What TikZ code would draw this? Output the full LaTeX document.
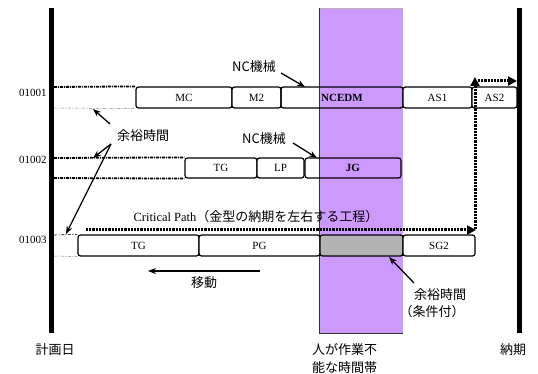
\documentclass[tikz,border=0pt]{standalone}
\usepackage{fontspec}
\setmainfont{Liberation Serif}
\newfontfamily\jpfont{Noto Sans CJK JP}
\usetikzlibrary{arrows.meta}
\definecolor{lilac}{HTML}{CC99FF}
\definecolor{slackgray}{HTML}{B3B3B3}
\begin{document}
\begin{tikzpicture}[x=1pt,y=-1pt,
  taskbox/.style={draw=black, line width=1.2pt, rounded corners=2.5pt, inner sep=0pt,
     font=\fontsize{11}{13}\selectfont},
  whitebox/.style={taskbox, fill=white},
  rowlbl/.style={font=\fontsize{11}{13}\selectfont, inner sep=0pt},
  jlbl/.style={font=\jpfont\fontsize{13}{15}\selectfont, inner sep=0pt},
  ptr/.style={-{Stealth[length=8pt,width=6pt]}, line width=1.3pt},
  crit/.style={line width=3pt, dash pattern=on 2.2pt off 1pt, -{Triangle[length=9pt,width=9pt]}},
  ddthick/.style={line width=1.8pt, dash pattern=on 3pt off 1pt on 1pt off 1pt},
  ddthin/.style={line width=0.5pt, gray, dash pattern=on 3pt off 1.5pt on 1pt off 1.5pt},
  bar/.style={line width=5pt}
]
\useasboundingbox (0,0) rectangle (538,374);
% unavailable period
\fill[lilac] (319,8) rectangle (403,333);
\draw[line width=0.5pt, gray!60] (319,8) -- (403,8);
\draw[line width=0.8pt, black!80] (319,8) -- (319,333) -- (403,333);
% bars
\draw[bar] (51.5,8) -- (51.5,333);

% row labels
\node[rowlbl] (r1) at (33,93) {01001};
\node[rowlbl] (r2) at (33,160) {01002};
\node[rowlbl] (r3) at (33,240) {01003};

% row 1
\node[whitebox, minimum width=96pt, minimum height=21pt] (mc) at (184,97.5) {MC};
\node[whitebox, minimum width=49pt, minimum height=21pt] (m2) at (256.5,97.5) {M2};
\node[taskbox, minimum width=122pt, minimum height=21pt] (edm) at (342,97.5) {\textbf{NCEDM}};
\node[whitebox, minimum width=69pt, minimum height=21pt] (as1) at (437.5,97.5) {AS1};
\node[whitebox, minimum width=45pt, minimum height=21pt] (as2) at (494.5,97.5) {AS2};
\draw[bar] (519,8) -- (519,333);
\coordinate (l1a) at (54,87);
\coordinate (l1b) at (54,108);
\draw[ddthick] (l1a) -- (mc.north west);
\draw[ddthin] (l1b) -- (mc.south west);

% row 2
\node[whitebox, minimum width=72pt, minimum height=20pt] (tg2) at (221,168) {TG};
\node[whitebox, minimum width=47pt, minimum height=20pt] (lp) at (280.5,168) {LP};
\node[taskbox, minimum width=96pt, minimum height=20pt] (jg) at (353,168) {\textbf{JG}};
\coordinate (l2a) at (54,158);
\coordinate (l2b) at (54,178);
\draw[ddthick] (l2a) -- (tg2.north west);
\draw[ddthick] (l2b) -- (tg2.south west);

% row 3
\node[whitebox, minimum width=121pt, minimum height=21pt] (tg3) at (138.5,245.5) {TG};
\node[whitebox, minimum width=121pt, minimum height=21pt] (pg) at (259.5,245.5) {PG};
\node[taskbox, fill=slackgray, minimum width=83pt, minimum height=21pt] (gap) at (361.5,245.5) {};
\node[whitebox, minimum width=72pt, minimum height=21pt] (sg2) at (439,245.5) {SG2};
\coordinate (l3a) at (54,235);
\coordinate (l3b) at (54,256);
\draw[line width=0.6pt, dash pattern=on 3pt off 1.5pt on 1pt off 1.5pt] (l3a) -- (tg3.north west);
\draw[ddthin] (l3b) -- (tg3.south west);

% critical path
\node[font=\fontsize{12.5}{14}\selectfont, inner sep=0pt] (cp) at (256,217)
  {Critical Path{\jpfont\fontsize{13}{15}\selectfont （金型の納期を左右する工程）}};
\coordinate (cpa) at (86,230);
\coordinate (cpb) at (476,230);
\coordinate (cpc) at (475,229);
\coordinate (cpd) at (475,77);
\coordinate (cpe) at (478,81);
\coordinate (cpf) at (517,81);
\draw[crit] (cpa) -- (cpb);
\draw[crit] (cpc) -- (cpd);
\draw[crit] (cpe) -- (cpf);

% NC machine labels
\node[jlbl] (nc1) at (254,67) {NC機械};
\coordinate (nc1s) at (281,73);
\coordinate (nc1t) at (305,87);
\draw[ptr] (nc1s) -- (nc1t);
\node[jlbl] (nc2) at (264,139) {NC機械};
\coordinate (nc2s) at (293,143);
\coordinate (nc2t) at (317,158);
\draw[ptr] (nc2s) -- (nc2t);

% slack labels
\node[jlbl] (sl) at (143,136) {余裕時間};
\coordinate (sl1) at (93,109);
\coordinate (sl2) at (93,158);
\coordinate (sl3) at (66,234);
\coordinate (slo1) at (110,124);
\coordinate (slo2) at (111,144);
\draw[ptr] (slo1) -- (sl1);
\draw[ptr] (slo2) -- (sl2);
\draw[ptr] (slo2) -- (sl3);

% move
\node[jlbl] (mv) at (204,283) {移動};
\coordinate (mva) at (260,271);
\coordinate (mvb) at (148,271);
\draw[ptr] (mva) -- (mvb);

% conditional slack
\node[jlbl] (cs1) at (440,295) {余裕時間};
\node[jlbl] (cs2) at (432,312) {（条件付）};
\coordinate (csa) at (414,283);
\coordinate (csb) at (389,257);
\draw[ptr] (csa) -- (csb);

% bottom labels
\node[jlbl] (plan) at (55,350) {計画日};
\node[jlbl, anchor=west] (hum1) at (312,350) {人が作業不};
\node[jlbl, anchor=west] (hum2) at (312,368) {能な時間帯};
\node[jlbl, anchor=west] (due) at (500,350) {納期};
\end{tikzpicture}
\end{document}
